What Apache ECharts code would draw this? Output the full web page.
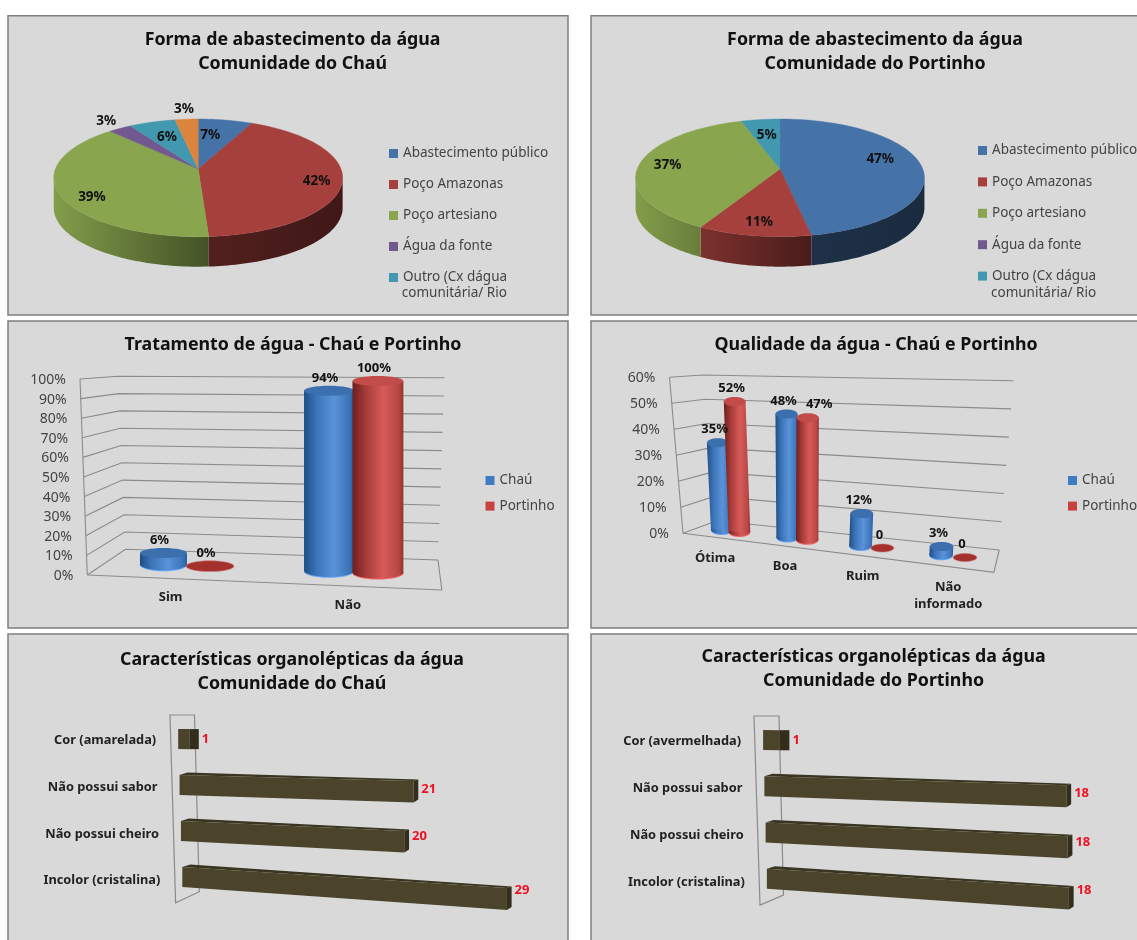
<!DOCTYPE html>
<html><head><meta charset="utf-8">
<style>html,body{margin:0;padding:0;background:#fff}#c{width:1137px;height:940px}</style>
<script src="https://cdn.jsdelivr.net/npm/echarts@6/dist/echarts.min.js"></script>
</head><body><div id="c"></div>
<script>
// ---------- DATA ----------
const supplyNames = ['Abastecimento público','Poço Amazonas','Poço artesiano','Água da fonte','Outro (Cx dágua comunitária/ Rio)','Não identificado'];
const supplyChau = [7,42,39,3,6,3];
const supplyPortinho = [47,11,37,0,5,0];
const treatCats = ['Sim','Não'];
const treatChau = [6,94];
const treatPortinho = [0,100];
const treatTicks = [0,10,20,30,40,50,60,70,80,90,100];
const treatTickLabels = ['0%','10%','20%','30%','40%','50%','60%','70%','80%','90%','100%'];
const qualCats = ['Ótima','Boa','Ruim','Não\ninformado'];
const qualChau = [35,48,12,3];
const qualPortinho = [52,47,0,0];
const qualTicks = [0,10,20,30,40,50,60];
const qualTickLabels = ['0%','10%','20%','30%','40%','50%','60%'];
const orgCatsChau = ['Cor (amarelada)','Não possui sabor','Não possui cheiro','Incolor (cristalina)'];
const orgChau = [1,21,20,29];
const orgCatsPortinho = ['Cor (avermelhada)','Não possui sabor','Não possui cheiro','Incolor (cristalina)'];
const orgPortinho = [1,18,18,18];

// ---------- STYLE / LAYOUT ----------
const FF = '"Noto Sans"';
const sliceColors = ['#4572A7','#A5403D','#89A54E','#71588F','#4198AF','#DB843D'];
const pieLabelsChau = {r:[.66,.83,.83,1.2,.65,1.25], shift:[-4.6,4,-10,0,0,0]};
const pieLabelsPort = {r:[.74,.82,.8,0,.65,0], shift:[-8,0,0,0,0,0]};
const PK = .1504, PA = 57.5, PB = 142.8, PDEPTH = 30;
const pieChauGeo = {x:198.2, y:169};
const piePortGeo = {x:780, y:169};
const blue = ['#1f4e86','#3c74b8','#5a93d9','#3b74b8','#2b5e9e'];
const red = ['#6c1e1e','#a43a38','#d75a58','#b84845','#96302e'];
const gradStops = [0,.25,.6,.9,1];
const treatGeo = {F0:[87.3,575],F1:[80,379],B0:[125.5,549.3],B1:[118.2,376.3],R0:[438,560],R1:[444.4,377.7],Fr:[441.8,590],
  warp:.05, hw:[23,26], scale:[190,192], lean:[0,0], ryT:5, ryB:6, lDx:-4, lDy:-13, xDx:-2, xDy:18.5};
const qualGeo = {F0:[683,533.3],F1:[669.5,377.3],B0:[716.8,520.7],B1:[702.6,375],R0:[999.2,550],R1:[1013.4,380.7],Fr:[993.9,572.3],
  warp:.2, hw:[10.7,12], scale:[147,170], lean:[-.06,.043], ryT:4.5, ryB:4.5, lDx:-3, lDy:-13, xDx:0, xDy:20};
const qualLabelNudge = [0,14.5,0,0];
const orgGeoChau = {tl:[177.5,716],bl:[183,900],tr:[499.5,716],br:[508,925], wall:[[170,715],[194.5,715],[199.3,891.7],[175.6,902.7]]};
const orgGeoPort = {tl:[762.5,716.8],bl:[767.5,902],tr:[1064.5,719.5],br:[1069.5,924], wall:[[754,716],[779,716],[783.5,895],[760,905]]};
const lerp=(a,b,t)=>a+(b-a)*t;
const lp=(p,q,t)=>[lerp(p[0],q[0],t),lerp(p[1],q[1],t)];
function shade(hex,f){const n=parseInt(hex.slice(1),16);const c=[n>>16&255,n>>8&255,n&255].map(v=>Math.min(255,Math.round(v*f)));return `rgb(${c[0]},${c[1]},${c[2]})`;}
const hGrad=(cols,stops)=>new echarts.graphic.LinearGradient(0,0,1,0,cols.map((c,i)=>({offset:stops?stops[i]:i/(cols.length-1),color:c})));
const lightF=t=>Math.max(.38,.95-.85*t);

// ---------- PIE (perspective disc computed from the values) ----------
function pieSeries(name,idx,values,geo,labs){
  const before=values.slice(0,idx).reduce((a,b)=>a+b,0), total=values.reduce((a,b)=>a+b,0);
  const proj=(deg,r)=>{const t=deg*Math.PI/180,X=Math.sin(t)*r,Y=-Math.cos(t)*r,w=1-PK*Y;return [geo.x+PB*X/w,geo.y+PA*Y/w];};
  return {type:'custom',name,coordinateSystem:'none',silent:true,z:3,itemStyle:{color:sliceColors[idx]},data:[[values[idx]]],
    renderItem(params,api){
      const v=api.value(0); if(!v) return {type:'group',children:[]};
      const a0=before/total*360,a1=(before+v)/total*360,col=sliceColors[idx];
      const top=[[geo.x,geo.y]];
      for(let i=0;i<=60;i++) top.push(proj(lerp(a0,a1,i/60),1));
      const kids=[];
      const s0=Math.max(a0,98),s1=Math.min(a1,262);
      if(s1>s0){
        const rim=[];for(let i=0;i<=60;i++) rim.push(proj(lerp(s0,s1,i/60),1));
        const xs=rim.map(p=>p[0]);const mn=Math.min(...xs),mx=Math.max(...xs);
        const pts=rim.concat(rim.slice().reverse().map(p=>[p[0],p[1]+PDEPTH]));
        const tl=(mn-(geo.x-144.4))/288.8,tr=(mx-(geo.x-144.4))/288.8;
        kids.push({type:'polygon',shape:{points:pts},style:{fill:hGrad([shade(col,lightF(tl)),shade(col,lightF(tr))])}});
      }
      kids.push({type:'polygon',shape:{points:top},style:{fill:col,stroke:col,lineWidth:.4}});
      const p=proj((a0+a1)/2+labs.shift[idx],labs.r[idx]);
      kids.push({type:'text',z2:50,style:{text:v+'%',x:p[0],y:p[1],align:'center',verticalAlign:'middle',font:`bold 13.5px ${FF}`,fill:'#111'}});
      return {type:'group',children:kids};
    }};
}

// ---------- 3D COLUMN PANELS ----------
function wallSeries(ticks,labels,g,ax){
  return {type:'custom',name:'wall'+ax,coordinateSystem:'cartesian2d',xAxisIndex:ax,yAxisIndex:ax,silent:true,z:2,
    data:ticks.map((t,i)=>[0,t,i]),
    renderItem(params,api){
      const c=api.coord([0,api.value(1)]),cs=params.coordSys,v=(cs.y+cs.height-c[1])/cs.height;
      const f=lp(g.F0,g.F1,v),b=lp(g.B0,g.B1,v),r=lp(g.R0,g.R1,v);
      const kids=[{type:'polyline',shape:{points:[f,b,r]},style:{stroke:'#8b8b8b',lineWidth:1.1,fill:null}},
        {type:'text',style:{text:labels[api.value(2)],x:f[0]-14,y:f[1]+1,align:'right',verticalAlign:'middle',font:`14px ${FF}`,fill:'#444'}}];
      if(v===0) kids.push({type:'polyline',shape:{points:[f,g.Fr,g.R0]},style:{stroke:'#8b8b8b',lineWidth:1.1,fill:null}});
      if(api.value(2)===ticks.length-1) kids.push({type:'polyline',shape:{points:[g.F0,g.F1]},style:{stroke:'#8b8b8b',lineWidth:1.1,fill:null}});
      return {type:'group',children:kids};
    }};
}
function catSeries(cats,g,ax){
  return {type:'custom',name:'cats'+ax,coordinateSystem:'cartesian2d',xAxisIndex:ax,yAxisIndex:ax,silent:true,z:2,
    data:cats.map((c,i)=>[i,0]),
    renderItem(params,api){
      const c=api.coord([api.value(0),0]),cs=params.coordSys,u=(c[0]-cs.x)/cs.width,w=u+g.warp*u*(u-1);
      const p=lp(g.F0,g.Fr,w);
      return {type:'text',style:{text:cats[api.value(0)],x:p[0]+g.xDx,y:p[1]+g.xDy,align:'center',verticalAlign:'top',
        font:`bold 13px ${FF}`,lineHeight:17,fill:'#222'},y:-8};
    }};
}
function cylSeries(name,vals,g,ax,off,cols,topCol,legendCol,zeroTxt,nudge){
  return {type:'custom',name,coordinateSystem:'cartesian2d',xAxisIndex:ax,yAxisIndex:ax,silent:true,z:4,itemStyle:{color:legendCol},
    data:vals.map((v,i)=>[i,v]),
    renderItem(params,api){
      const val=api.value(1),i=api.value(0),c=api.coord([i,val]),band=api.size([1,0])[0],cs=params.coordSys;
      const u=(c[0]+off*band-cs.x)/cs.width,v=(cs.y+cs.height-c[1])/cs.height,w=u+g.warp*u*(u-1);
      const base=lp(lp(g.F0,g.B0,.5),lp(g.Fr,g.R0,.5),w);
      const H=v*lerp(g.scale[0],g.scale[1],w),hw=lerp(g.hw[0],g.hw[1],w),lean=lerp(g.lean[0],g.lean[1],Math.min(1,w/.58));
      const tx=base[0]+lean*H,ty=base[1]-H;
      const kids=[];
      if(val===0){
        kids.push({type:'ellipse',shape:{cx:base[0],cy:base[1],rx:hw,ry:g.ryB*.9},style:{fill:'#a5312f',stroke:'#c9807d',lineWidth:.6}});
      }else{
        const fill=hGrad(cols,gradStops);
        kids.push({type:'ellipse',shape:{cx:base[0],cy:base[1]+1,rx:hw,ry:g.ryB},style:{fill:shade(cols[2],1.12)}});
        kids.push({type:'ellipse',shape:{cx:base[0],cy:base[1],rx:hw,ry:g.ryB},style:{fill}});
        kids.push({type:'polygon',shape:{points:[[base[0]-hw,base[1]],[tx-hw,ty],[tx+hw,ty],[base[0]+hw,base[1]]]},style:{fill}});
        kids.push({type:'ellipse',shape:{cx:tx,cy:ty,rx:hw,ry:g.ryT},style:{fill:topCol}});
      }
      const nd=nudge?nudge[i]:0;
      kids.push({type:'text',z2:50,style:{text:val===0?zeroTxt:val+'%',x:tx+g.lDx+nd,y:ty+g.lDy,align:'center',verticalAlign:'middle',font:`bold 13px ${FF}`,fill:'#111'}});
      return {type:'group',children:kids};
    }};
}

// ---------- HORIZONTAL BAR PANELS ----------
function orgSeries(name,cats,vals,g,ax){
  const P=(u,v)=>lp(lp(g.tl,g.bl,v),lp(g.tr,g.br,v),u);
  return {type:'custom',name,coordinateSystem:'cartesian2d',xAxisIndex:ax,yAxisIndex:ax,silent:true,z:4,
    data:vals.map((v,i)=>[v,i]),
    renderItem(params,api){
      const val=api.value(0),i=api.value(1),c0=api.coord([0,i]),c1=api.coord([val,i]),cs=params.coordSys;
      const v=(c0[1]-cs.y)/cs.height,u=(c1[0]-cs.x)/cs.width;
      const L=P(0,v),R=P(u,v),t0=10,t1=10+u,d=4.5+5/val,sk=val<3?0:1.5;
      const kids=[];
      if(val>=3) kids.push({type:'polygon',shape:{points:[[L[0],L[1]-t0],[L[0]+8,L[1]-t0-2.5],[R[0]+d,R[1]-t1-sk],[R[0],R[1]-t1]]},style:{fill:'#3a3521'}});
      kids.push({type:'polygon',shape:{points:[[L[0],L[1]-t0],[R[0],R[1]-t1],[R[0],R[1]+t1],[L[0],L[1]+t0]]},style:{fill:'#4b442b'}});
      kids.push({type:'polygon',shape:{points:[[R[0],R[1]-t1],[R[0]+d,R[1]-t1-sk],[R[0]+d,R[1]+t1-2*sk],[R[0],R[1]+t1]]},style:{fill:'#332e1c'}});
      kids.push({type:'text',z2:50,style:{text:String(val),x:R[0]+d+3,y:R[1]+2-12*v,align:'left',verticalAlign:'middle',font:`bold 13px ${FF}`,fill:'#EE1122'}});
      kids.push({type:'text',z2:50,style:{text:cats[i],x:L[0]-22,y:L[1]+1.5+2.5*v,align:'right',verticalAlign:'middle',font:`bold 12.8px ${FF}`,fill:'#222'}});
      return {type:'group',children:kids};
    }};
}
function orgWall(g,ax){
  return {type:'custom',name:'orgwall'+ax,coordinateSystem:'none',silent:true,z:2,data:[[0]],
    renderItem(){return {type:'polygon',shape:{points:g.wall},style:{fill:'none',stroke:'#8b8b8b',lineWidth:1.2}};}};
}

// ---------- ASSEMBLY ----------
const panels=[[8,15.7,560,299.3],[591,15.7,560,299.3],[8,321,560,307],[591,321,560,307],[8,634,560,320],[591,634,560,320]];
const titles=[
 ['Forma de abastecimento da água\nComunidade do Chaú',287.6,23],
 ['Forma de abastecimento da água\nComunidade do Portinho',870,23],
 ['Tratamento de água - Chaú e Portinho',288,328],
 ['Qualidade da água - Chaú e Portinho',871,328],
 ['Características organolépticas da água\nComunidade do Chaú',287,642.5],
 ['Características organolépticas da água\nComunidade do Portinho',868.6,640]
];
const legendNames=supplyNames.slice(0,5);
const legendFmt=n=>n.startsWith('Outro')?'Outro (Cx dágua':n;
const legendBase={orient:'vertical',padding:0,itemWidth:9,itemHeight:9,selectedMode:false,icon:'rect',textStyle:{fontFamily:FF,fontSize:13.5,color:'#444',lineHeight:17}};

const axisOff={show:false};
const grids=[{left:88,top:380,width:350,height:190},{left:690,top:380,width:300,height:150},
             {left:180,top:715,width:320,height:185},{left:765,top:715,width:300,height:185}];
const option={
  animation:false,backgroundColor:'#fff',
  graphic:{elements:panels.map(p=>({type:'rect',z:-10,silent:true,shape:{x:p[0],y:p[1],width:p[2],height:p[3]},style:{fill:'#D9D9D9',stroke:'#7f7f7f',lineWidth:1.5}}))
    .concat([[401.8,293],[991,292.7]].map(p=>({type:'text',z:20,silent:true,x:p[0],y:p[1],style:{text:'comunitária/ Rio',font:`13.5px ${FF}`,fill:'#444',verticalAlign:'middle'}})))},
  title:titles.map(t=>({text:t[0],left:t[1],top:t[2],textAlign:'center',textStyle:{fontFamily:FF,fontSize:17.8,fontWeight:'bold',color:'#111',lineHeight:24}})),
  legend:[
    {...legendBase,data:legendNames,formatter:legendFmt,left:389,top:145,itemGap:14},
    {...legendBase,data:legendNames,formatter:legendFmt,left:978,top:142,itemGap:14.4},
    {...legendBase,data:['Chaú','Portinho'],left:485.5,top:472,itemGap:8.6},
    {...legendBase,data:['Chaú','Portinho'],left:1068,top:472,itemGap:8.6}
  ],
  grid:grids,
  xAxis:[
    {gridIndex:0,type:'category',data:treatCats,...axisOff},
    {gridIndex:1,type:'category',data:qualCats,...axisOff},
    {gridIndex:2,type:'value',min:0,max:29,...axisOff},
    {gridIndex:3,type:'value',min:0,max:18,...axisOff}
  ],
  yAxis:[
    {gridIndex:0,type:'value',min:0,max:100,interval:10,...axisOff},
    {gridIndex:1,type:'value',min:0,max:60,interval:10,...axisOff},
    {gridIndex:2,type:'category',inverse:true,data:orgCatsChau,...axisOff},
    {gridIndex:3,type:'category',inverse:true,data:orgCatsPortinho,...axisOff}
  ],
  series:[
    ...supplyNames.map((n,i)=>pieSeries(n,i,supplyChau,pieChauGeo,pieLabelsChau)),
    ...supplyNames.map((n,i)=>pieSeries(n,i,supplyPortinho,piePortGeo,pieLabelsPort)),
    wallSeries(treatTicks,treatTickLabels,treatGeo,0),
    catSeries(treatCats,treatGeo,0),
    cylSeries('Chaú',treatChau,treatGeo,0,-.143,blue,'#3b6fae','#3F7CC4','0%'),
    cylSeries('Portinho',treatPortinho,treatGeo,0,.143,red,'#c24c49','#C9413F','0%'),
    wallSeries(qualTicks,qualTickLabels,qualGeo,1),
    catSeries(qualCats,qualGeo,1),
    cylSeries('Chaú',qualChau,qualGeo,1,-.14,blue,'#3b6fae','#3F7CC4','0'),
    cylSeries('Portinho',qualPortinho,qualGeo,1,.14,red,'#c24c49','#C9413F','0',qualLabelNudge),
    orgWall(orgGeoChau,2),
    orgSeries('Chaú - características',orgCatsChau,orgChau,orgGeoChau,2),
    orgWall(orgGeoPort,3),
    orgSeries('Portinho - características',orgCatsPortinho,orgPortinho,orgGeoPort,3)
  ]
};
const chart=echarts.init(document.getElementById('c'),null,{renderer:'canvas',width:1137,height:940});
chart.setOption(option);
</script></body></html>
